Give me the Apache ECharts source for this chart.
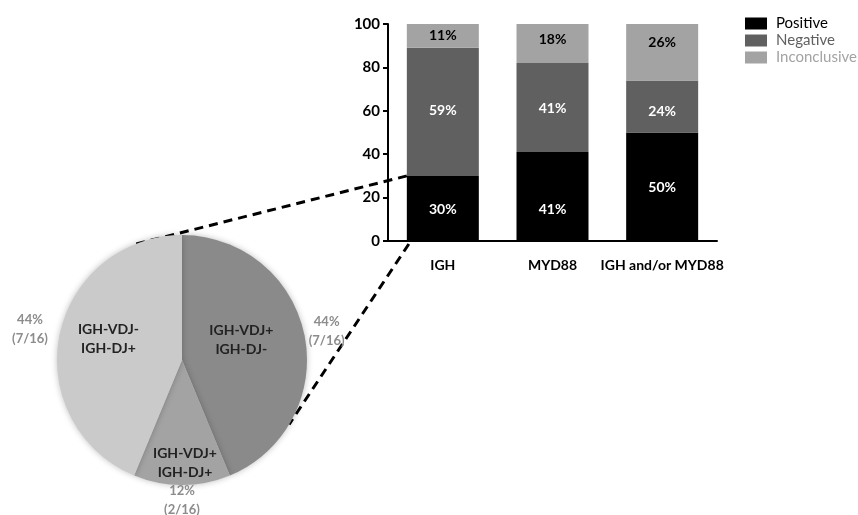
<!DOCTYPE html>
<html>
<head>
<meta charset="utf-8">
<script src="https://cdn.jsdelivr.net/npm/echarts@6/dist/echarts.min.js"></script>
<style>
  html, body { margin: 0; padding: 0; background: #fff; }
  #chart { width: 858px; height: 515px; }
</style>
</head>
<body>
<div id="chart"></div>
<script>
const categories = ['IGH', 'MYD88', 'IGH and/or MYD88'];
const positive = [30, 41, 50];
const negative = [59, 41, 24];
const inconclusive = [11, 18, 26];
const yTicks = [0, 20, 40, 60, 80, 100];

const pieNames = ['IGH-VDJ+\nIGH-DJ-', 'IGH-VDJ+\nIGH-DJ+', 'IGH-VDJ-\nIGH-DJ+'];
const pieCounts = [7, 2, 7];
const piePercents = [44, 12, 44];
const pieTotal = 16;

const font = 'Lato, "Open Sans", sans-serif';
const pieCenter = [182, 360];
const pieR = 125;
const barW = 72;
// vertical nudges of the bar labels, per series then per category (px)
const barLabelDy = [[1, 13, 1], [-1, 1, 5], [0, -4, -10]];
// where each slice's texts sit, as a fraction of the radius along the slice's mid angle
const nameRadius = [0.5, 0.82, 0.6];
const nameShift = [[-2, -8], [3, 0], [0, -6]];
const pctRadius = [1.18, 1.12, 1.24];

const elem = document.getElementById('chart');
const chart = echarts.init(elem);

// mid angle of each slice, clockwise from 12 o'clock
const midAngles = [];
let acc = 0;
pieCounts.forEach((c) => {
  midAngles.push(((acc + c / 2) / pieTotal) * 360);
  acc += c;
});
const polar = (deg, r) => {
  const a = (deg * Math.PI) / 180;
  return [pieCenter[0] + r * Math.sin(a), pieCenter[1] - r * Math.cos(a)];
};

const segLabel = (color) => ({
  show: true,
  position: 'inside',
  color,
  fontFamily: font,
  fontWeight: 'bold',
  fontSize: 14,
  formatter: (p) => p.value + '%',
});
const segLayout = (s) => (p) => ({ dy: barLabelDy[s][p.dataIndex] });

const pieData = pieNames.map((n, i) => ({ name: n, value: pieCounts[i] }));

const option = {
  animation: false,
  color: ['#000000', '#606060', '#a3a3a3'],
  textStyle: { fontFamily: font },
  legend: {
    orient: 'vertical',
    left: 740,
    top: 11,
    itemWidth: 22,
    itemHeight: 12,
    itemGap: 2,
    icon: 'rect',
    textStyle: { fontSize: 15, fontFamily: font, padding: [0, 0, 0, 4] },
    data: [
      { name: 'Positive', textStyle: { color: '#000' } },
      { name: 'Negative', textStyle: { color: '#606060' } },
      { name: 'Inconclusive', textStyle: { color: '#a3a3a3' } },
    ],
  },
  grid: { left: 388, right: 141, top: 24, bottom: 274, containLabel: false },
  xAxis: {
    type: 'category',
    data: categories,
    axisLine: { lineStyle: { color: '#000', width: 2 } },
    axisTick: { alignWithLabel: true, length: 6, lineStyle: { width: 2, color: '#000' } },
    axisLabel: { interval: 0, color: '#000', fontWeight: 'bold', fontSize: 14, margin: 17, fontFamily: font },
  },
  yAxis: {
    type: 'value',
    min: yTicks[0],
    max: yTicks[yTicks.length - 1],
    interval: 20,
    axisLine: { show: true, lineStyle: { color: '#000', width: 2 } },
    axisTick: { show: true, length: 5, lineStyle: { width: 2, color: '#000' } },
    axisLabel: { color: '#000', fontWeight: 'bold', fontSize: 15, margin: 8, fontFamily: font },
    splitLine: { show: false },
  },
  series: [
    { name: 'Positive', type: 'bar', stack: 's', barWidth: barW, data: positive, label: segLabel('#fff'), labelLayout: segLayout(0) },
    { name: 'Negative', type: 'bar', stack: 's', barWidth: barW, data: negative, label: segLabel('#fff'), labelLayout: segLayout(1) },
    { name: 'Inconclusive', type: 'bar', stack: 's', barWidth: barW, data: inconclusive, label: segLabel('#000'), labelLayout: segLayout(2) },
    {
      type: 'pie',
      center: pieCenter,
      radius: [0, pieR],
      startAngle: 90,
      silent: true,
      data: pieData,
      color: ['#8a8a8a', '#a3a3a3', '#cacaca'],
      itemStyle: { shadowBlur: 6, shadowColor: 'rgba(0,0,0,0.25)' },
      label: {
        show: true,
        position: 'inside',
        color: '#222',
        fontWeight: 'bold',
        fontSize: 14,
        lineHeight: 19,
        fontFamily: font,
        formatter: (p) => p.name,
      },
      labelLine: { show: false },
      labelLayout: (p) => {
        const i = p.dataIndex;
        const pt = polar(midAngles[i], pieR * nameRadius[i]);
        return {
          x: pt[0] + nameShift[i][0],
          y: pt[1] + nameShift[i][1],
          align: 'center',
          verticalAlign: 'middle',
        };
      },
    },
    {
      // invisible copy of the pie that carries the percentage labels
      type: 'pie',
      center: pieCenter,
      radius: [0, pieR],
      startAngle: 90,
      silent: true,
      data: pieData,
      itemStyle: { color: 'rgba(0,0,0,0)' },
      label: {
        show: true,
        position: 'inside',
        color: '#8c8c8c',
        fontWeight: 'bold',
        fontSize: 13,
        lineHeight: 19,
        fontFamily: font,
        formatter: (p) => piePercents[p.dataIndex] + '%\n(' + p.value + '/' + pieTotal + ')',
      },
      labelLine: { show: false },
      labelLayout: (p) => {
        const i = p.dataIndex;
        const pt = polar(midAngles[i], pieR * pctRadius[i]);
        return { x: pt[0], y: pt[1], align: 'center', verticalAlign: 'middle' };
      },
    },
  ],
};

chart.setOption(option);

// dashed connectors from the IGH positive segment to the pie
const segTop = chart.convertToPixel({ seriesIndex: 0 }, [0, positive[0]]);
const segBottom = chart.convertToPixel({ seriesIndex: 0 }, [0, 0]);
const leftX = segTop[0] - barW / 2;
const p1 = polar(-22.5, pieR);
const p2 = polar(121, pieR);
const dash = { stroke: '#000', lineWidth: 3, lineDash: [9, 6] };
chart.setOption({
  graphic: [
    { type: 'line', shape: { x1: leftX, y1: segTop[1], x2: p1[0], y2: p1[1] }, style: dash, silent: true },
    { type: 'line', shape: { x1: leftX + 2, y1: segBottom[1] + 3, x2: p2[0], y2: p2[1] }, style: dash, silent: true },
  ],
});
</script>
</body>
</html>
